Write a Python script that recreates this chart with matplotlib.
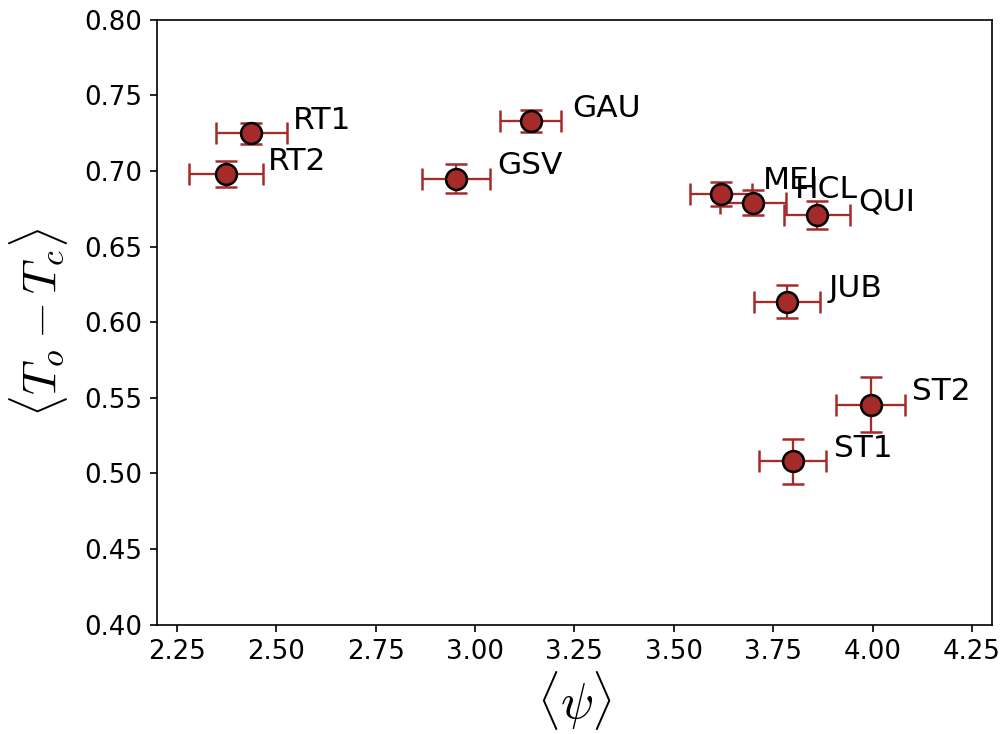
import matplotlib

matplotlib.use("Agg")
import matplotlib.pyplot as plt
import numpy as np

plt.rcParams["mathtext.fontset"] = "cm"

# sites and their mean values
labels = ["RT1", "RT2", "GSV", "GAU", "MEI", "HCL", "QUI", "JUB", "ST2", "ST1"]
psi = [2.437, 2.374, 2.952, 3.140, 3.619, 3.699, 3.860, 3.785, 3.995, 3.799]
psi_err = [0.089, 0.093, 0.086, 0.077, 0.078, 0.082, 0.084, 0.083, 0.087, 0.084]
dT = [0.725, 0.698, 0.695, 0.733, 0.685, 0.679, 0.671, 0.6135, 0.5455, 0.508]
dT_err = [0.007, 0.0088, 0.0097, 0.0075, 0.008, 0.0084, 0.0094, 0.011, 0.018, 0.015]

color = "#a52a2a"

fig, ax = plt.subplots(figsize=(1006 / 150, 734 / 150), dpi=150)
fig.subplots_adjust(left=0.156, right=0.986, top=0.973, bottom=0.149)

ax.errorbar(psi, dT, xerr=psi_err, yerr=dT_err, fmt="o", color=color,
            ecolor=color, mfc=color, mec="k", mew=1.2, ms=10,
            elinewidth=1.1, capsize=5.2, capthick=1.1)
for x, y, lab in zip(psi, dT, labels):
    ax.text(x + 0.105, y + 0.003, lab, fontsize=15)

ax.set_xlim(2.2, 4.3)
ax.set_ylim(0.40, 0.80)
ax.set_xticks(np.arange(2.25, 4.26, 0.25))
ax.set_yticks(np.arange(0.40, 0.801, 0.05))
ax.tick_params(labelsize=12.5)
ax.set_xlabel(r"$\langle\psi\rangle$", fontsize=23.5, labelpad=2)
ax.set_ylabel(r"$\langle T_o - T_c\rangle$", fontsize=23, labelpad=7)

fig.savefig("out.png", dpi=150)
